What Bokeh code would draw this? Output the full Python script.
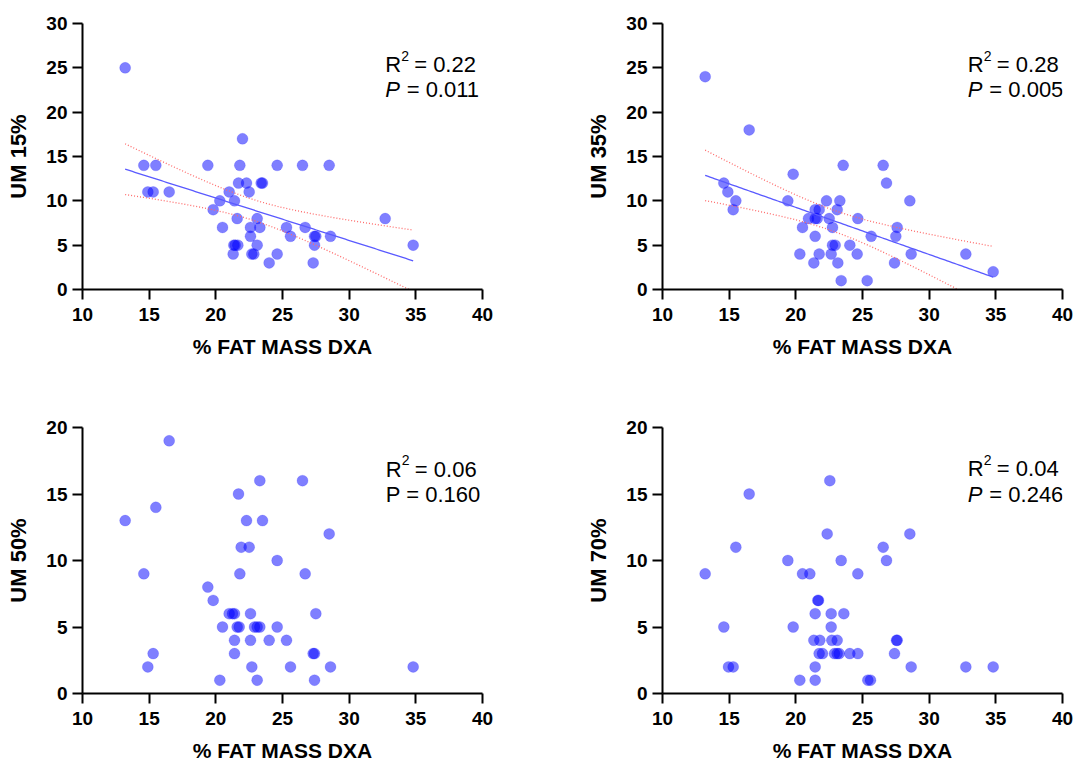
import numpy as np
from bokeh.plotting import figure
from bokeh.layouts import column, row
from bokeh.models import Range1d, FixedTicker, Label
from bokeh.embed import file_html
from bokeh.resources import INLINE

# ---------------- data ----------------
FAT_15 = [13.2, 14.6, 15.5, 14.9, 15.3, 16.5, 19.4, 21.8, 24.6, 26.5, 28.5, 22.0,
          21.7, 22.3, 23.4, 23.5, 22.5, 21.0, 20.3, 21.4, 19.8, 21.6, 23.1, 20.5,
          22.6, 23.3, 25.3, 26.7, 22.6, 25.6, 27.4, 27.5, 28.6, 32.7, 34.8, 21.35,
          21.45, 21.65, 23.1, 27.4, 21.3, 22.7, 22.85, 24.6, 24.0, 27.3]
UM_15 = [25, 14, 14, 11, 11, 11, 14, 14, 14, 14, 14, 17,
         12, 12, 12, 12, 11, 11, 10, 10, 9, 8, 8, 7,
         7, 7, 7, 7, 6, 6, 6, 6, 6, 8, 5, 5,
         5, 5, 5, 5, 4, 4, 4, 4, 3, 3]

FAT_35 = [13.2, 16.5, 14.6, 14.9, 15.5, 15.3, 19.8, 19.4, 23.55, 20.5, 21.45, 20.95,
          21.45, 21.75, 21.45, 21.6, 22.3, 23.3, 23.1, 22.5, 22.75, 24.65, 25.65, 20.3,
          21.75, 21.35, 22.65, 22.75, 22.95, 24.05, 24.6, 23.15, 23.4, 25.35, 26.55, 26.8,
          28.55, 27.6, 27.5, 28.65, 32.75, 34.8, 27.4]
UM_35 = [24, 18, 12, 11, 10, 9, 13, 10, 14, 7, 6, 8,
         9, 9, 8, 8, 10, 10, 9, 8, 7, 8, 6, 4,
         4, 3, 4, 5, 5, 5, 4, 3, 1, 1, 14, 12,
         10, 7, 6, 4, 4, 2, 3]

FAT_50 = [16.5, 15.5, 13.2, 14.6, 15.3, 14.9, 23.3, 21.7, 22.3, 23.5, 21.9, 22.5,
          24.6, 21.8, 19.4, 19.8, 21.0, 21.25, 21.4, 22.6, 20.5, 21.6, 21.75, 22.9,
          23.1, 23.3, 24.6, 21.4, 22.6, 24.0, 25.3, 21.4, 22.7, 25.6, 20.3, 23.1,
          26.5, 28.5, 26.7, 27.5, 27.3, 27.4, 28.6, 34.8, 27.4]
UM_50 = [19, 14, 13, 9, 3, 2, 16, 15, 13, 13, 11, 11,
         10, 9, 8, 7, 6, 6, 6, 6, 5, 5, 5, 5,
         5, 5, 5, 4, 4, 4, 4, 3, 2, 2, 1, 1,
         16, 12, 9, 6, 3, 3, 2, 2, 1]

FAT_70 = [16.5, 15.5, 13.2, 14.6, 14.95, 15.3, 22.55, 22.35, 19.4, 23.4, 20.5, 21.05,
          24.65, 21.65, 21.7, 21.45, 22.65, 23.6, 19.8, 22.65, 21.35, 21.8, 22.7, 23.1,
          21.75, 22.0, 22.9, 23.1, 23.25, 24.05, 24.65, 21.45, 20.3, 21.45, 25.4, 25.6,
          28.55, 26.55, 26.8, 27.55, 27.6, 27.4, 28.65, 32.75, 34.8]
UM_70 = [15, 11, 9, 5, 2, 2, 16, 12, 10, 10, 9, 9,
         9, 7, 7, 6, 6, 6, 5, 5, 4, 4, 4, 4,
         3, 3, 3, 3, 3, 3, 3, 2, 1, 1, 1, 1,
         12, 11, 10, 4, 4, 3, 2, 2, 2]

X_TICKS = [10, 15, 20, 25, 30, 35, 40]
Y_TICKS_TOP = [0, 5, 10, 15, 20, 25, 30]
Y_TICKS_BOTTOM = [0, 5, 10, 15, 20]
Y_LABELS = ["UM 15%", "UM 35%", "UM 50%", "UM 70%"]
X_LABEL = "% FAT MASS DXA"
R2_TEXT = ["0.22", "0.28", "0.06", "0.04"]
P_TEXT = ["0.011", "0.005", "0.160", "0.246"]
P_ITALIC = [True, True, False, True]
HAS_FIT = [True, True, False, False]
T95 = 2.015  # two-sided 95% t critical value, df ~ 41-44

FONT = "Liberation Sans"


def panel(xs, ys, ylabel, ymax, yticks, r2, pval, p_italic, fit,
          left, right, top, bottom, tx, ty_r, ty_p):
    p = figure(x_range=Range1d(10, 40), y_range=Range1d(0, ymax),
               frame_width=400, frame_height=266,
               min_border_left=left, min_border_right=right,
               min_border_top=top, min_border_bottom=bottom,
               toolbar_location=None, output_backend="svg")
    p.outline_line_color = None
    p.xgrid.visible = False
    p.ygrid.visible = False
    p.background_fill_color = "white"
    p.border_fill_color = "white"

    for ax in (p.xaxis[0], p.yaxis[0]):
        ax.axis_line_width = 2
        ax.axis_line_color = "black"
        ax.major_tick_line_width = 2
        ax.major_tick_line_color = "black"
        ax.major_tick_out = 10
        ax.major_tick_in = 0
        ax.minor_tick_line_color = None
        ax.major_label_text_font = FONT
        ax.major_label_text_font_style = "bold"
        ax.major_label_text_font_size = "19px"
        ax.major_label_text_color = "black"
        ax.axis_label_text_font = FONT
        ax.axis_label_text_font_style = "bold"
        ax.axis_label_text_color = "black"
    p.xaxis[0].ticker = FixedTicker(ticks=X_TICKS)
    p.yaxis[0].ticker = FixedTicker(ticks=yticks)
    p.xaxis[0].axis_label = X_LABEL
    p.yaxis[0].axis_label = ylabel
    p.xaxis[0].axis_label_text_font_size = "21px"
    p.yaxis[0].axis_label_text_font_size = "22px"
    p.xaxis[0].major_label_standoff = 8
    p.yaxis[0].major_label_standoff = 5
    p.xaxis[0].axis_label_standoff = 11
    p.yaxis[0].axis_label_standoff = 12

    x = np.array(xs, dtype=float)
    y = np.array(ys, dtype=float)
    p.scatter(x, y, size=11, fill_color="blue", fill_alpha=0.5,
              line_color="blue", line_alpha=0.15)

    if fit:
        b, a = np.polyfit(x, y, 1)
        n = len(x)
        xx = np.linspace(x.min(), x.max(), 120)
        yhat = a + b * xx
        resid = y - (a + b * x)
        s = np.sqrt(np.sum(resid ** 2) / (n - 2))
        sxx = np.sum((x - x.mean()) ** 2)
        se = s * np.sqrt(1.0 / n + (xx - x.mean()) ** 2 / sxx)
        p.line(xx, yhat, line_color="#5a5aff", line_width=1.3)
        p.line(xx, yhat + T95 * se, line_color="#ff6a6a", line_width=1.3, line_dash="1 2")
        p.line(xx, yhat - T95 * se, line_color="#ff6a6a", line_width=1.3, line_dash="1 2")

    common = dict(text_font=FONT, text_color="black", text_baseline="alphabetic")
    p.add_layout(Label(x=tx, y=ty_r, text="R", text_font_size="22px", **common))
    p.add_layout(Label(x=tx, y=ty_r, text="2", x_offset=16, y_offset=9,
                       text_font_size="14px", **common))
    p.add_layout(Label(x=tx, y=ty_r, text="= " + r2, x_offset=29,
                       text_font_size="22px", **common))
    if p_italic:
        p.add_layout(Label(x=tx, y=ty_p, text="P", text_font_style="italic",
                           text_font_size="22px", **common))
        p.add_layout(Label(x=tx, y=ty_p, text="= " + pval, x_offset=21.5,
                           text_font_size="22px", **common))
    else:
        p.add_layout(Label(x=tx, y=ty_p, text="P = " + pval,
                           text_font_size="22px", **common))
    return p


p1 = panel(FAT_15, UM_15, Y_LABELS[0], 30, Y_TICKS_TOP, R2_TEXT[0], P_TEXT[0], P_ITALIC[0],
           HAS_FIT[0], 82, 58, 23, 93, 32.7, 25.35, 22.55)
p2 = panel(FAT_35, UM_35, Y_LABELS[1], 30, Y_TICKS_TOP, R2_TEXT[1], P_TEXT[1], P_ITALIC[1],
           HAS_FIT[1], 122, 17, 23, 93, 32.9, 25.35, 22.55)
p3 = panel(FAT_50, UM_50, Y_LABELS[2], 20, Y_TICKS_BOTTOM, R2_TEXT[2], P_TEXT[2], P_ITALIC[2],
           HAS_FIT[2], 82, 58, 45, 72, 32.75, 16.85, 15.0)
p4 = panel(FAT_70, UM_70, Y_LABELS[3], 20, Y_TICKS_BOTTOM, R2_TEXT[3], P_TEXT[3], P_ITALIC[3],
           HAS_FIT[3], 122, 17, 45, 72, 32.9, 16.9, 15.0)

layout = column(row(p1, p2, spacing=0), row(p3, p4, spacing=0), spacing=0)

open("out.html", "w").write(file_html(layout, INLINE))
